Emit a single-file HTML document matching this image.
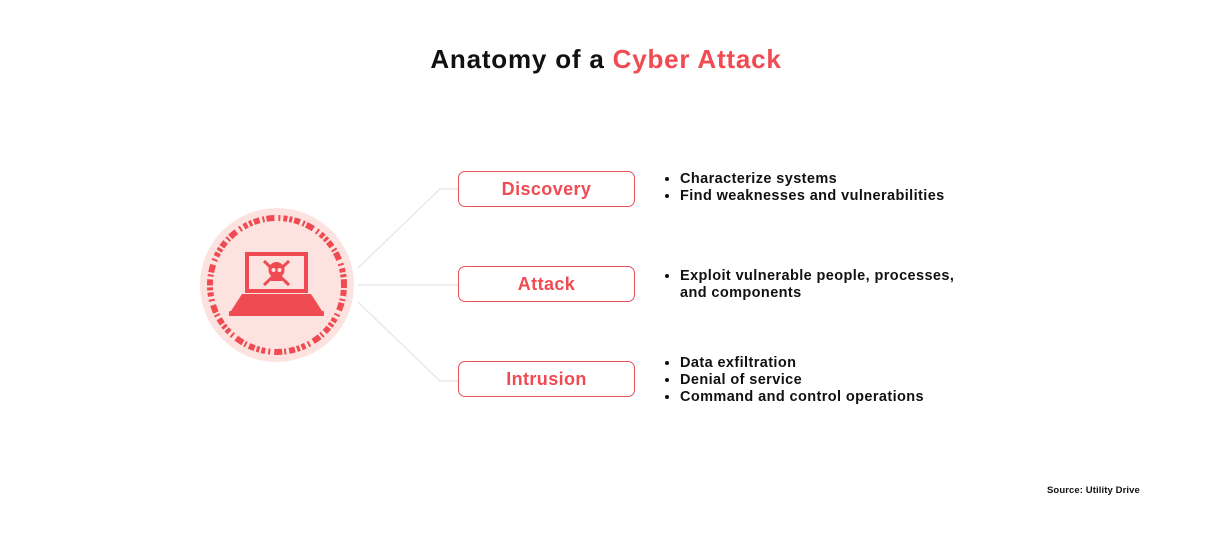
<!DOCTYPE html>
<html><head><meta charset="utf-8"><style>
body{margin:0;width:1212px;height:542px;background:#fff;position:relative;font-family:"Liberation Sans",sans-serif;overflow:hidden}
.t{position:absolute;left:0;width:1212px;top:44px;text-align:center;font-size:26px;font-weight:bold;color:#111;letter-spacing:0.8px}
.t span{color:#f04a52}
.box{position:absolute;left:458px;width:175px;height:34px;border:1px solid #e8505a;border-radius:7px;color:#f04a52;font-weight:bold;font-size:18px;text-align:center;line-height:34px;letter-spacing:0.4px}
ul{position:absolute;left:662px;margin:0;padding:0 0 0 18px;font-size:14.5px;font-weight:bold;color:#111;line-height:17px;letter-spacing:0.4px}
.src{position:absolute;left:1047px;top:485px;font-size:9.5px;font-weight:bold;color:#111;letter-spacing:0.1px}
</style></head><body>
<div class="t">Anatomy of a <span>Cyber Attack</span></div>
<svg width="1212" height="542" style="position:absolute;left:0;top:0">
<polyline points="358,268 440,189 458,189" fill="none" stroke="#e4e4e4" stroke-width="1.2"/>
<line x1="358" y1="285" x2="458" y2="285" stroke="#e4e4e4" stroke-width="1.2"/>
<polyline points="358,302 440,381 458,381" fill="none" stroke="#e4e4e4" stroke-width="1.2"/>
<circle cx="277" cy="285" r="77" fill="#fde3df"/>
<circle cx="277" cy="285" r="67" fill="none" stroke="#f04a52" stroke-width="6" stroke-dasharray="3 2 6 3 2 2 8 4 2 3 4 2"/>
<rect x="245" y="252" width="63" height="41" fill="#f04a52"/>
<rect x="249" y="256" width="55" height="33" fill="#fde3df"/>
<polygon points="242,294 311,294 322,311 231,311" fill="#f04a52"/>
<rect x="229" y="311" width="95" height="5" rx="1" fill="#f04a52"/>
<line x1="264" y1="261" x2="289" y2="285" stroke="#f04a52" stroke-width="3"/>
<line x1="289" y1="261" x2="264" y2="285" stroke="#f04a52" stroke-width="3"/>
<circle cx="276.5" cy="270" r="8" fill="#f04a52"/>
<rect x="271" y="274" width="11" height="7" fill="#f04a52"/>
<circle cx="273.5" cy="270" r="2" fill="#fde3df"/>
<circle cx="279.5" cy="270" r="2" fill="#fde3df"/>
</svg>
<div class="box" style="top:171px">Discovery</div>
<div class="box" style="top:266px">Attack</div>
<div class="box" style="top:361px">Intrusion</div>
<ul style="top:171px"><li>Characterize systems</li><li>Find weaknesses and vulnerabilities</li></ul>
<ul style="top:268px"><li>Exploit vulnerable people, processes,<br>and components</li></ul>
<ul style="top:355px"><li>Data exfiltration</li><li>Denial of service</li><li>Command and control operations</li></ul>
<div class="src">Source: Utility Drive</div>
</body></html>
